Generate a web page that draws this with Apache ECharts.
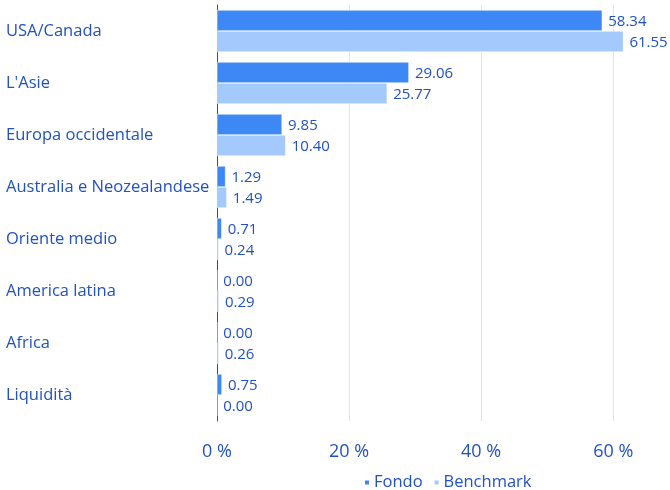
<!DOCTYPE html>
<html><head><meta charset="utf-8">
<script src="https://cdn.jsdelivr.net/npm/echarts@6/dist/echarts.min.js"></script>
<style>html,body{margin:0;padding:0;background:#fff}#c{width:670px;height:490px}</style>
</head><body><div id="c"></div>
<script>
const categories = ["USA/Canada","L'Asie","Europa occidentale","Australia e Neozealandese","Oriente medio","America latina","Africa","Liquidità"];
const fondo = [58.34, 29.06, 9.85, 1.29, 0.71, 0.00, 0.00, 0.75];
const benchmark = [61.55, 25.77, 10.40, 1.49, 0.24, 0.29, 0.26, 0.00];
const xTicks = [0, 20, 40, 60];

const txt = '#2151c2';
const font = 'Open Sans';
const chart = echarts.init(document.getElementById('c'));
chart.setOption({
  animation: false,
  textStyle: {fontFamily: font},
  grid: {left: 217, right: 0, top: 5, bottom: 69, containLabel: false},
  legend: {
    data: ['Fondo','Benchmark'], left: 358, top: 469, icon: 'rect', itemWidth: 6, itemHeight: 6, itemGap: 10,
    textStyle: {color: txt, fontSize: 16.5, fontFamily: font, padding: [0,0,0,-1]}
  },
  xAxis: {
    type: 'value', min: 0, max: 68.6, interval: 20,
    axisLine: {show: false}, axisTick: {show: false},
    splitLine: {lineStyle: {color: '#d6e6fb', width: 1}},
    axisLabel: {color: txt, fontSize: 18, margin: 22, showMaxLabel: false,
      formatter: v => xTicks.includes(v) ? v + ' %' : ''}
  },
  yAxis: {
    type: 'category', data: categories, inverse: true,
    axisLine: {show: true, lineStyle: {color: '#1f4fb5', width: 1}},
    axisTick: {show: false},
    axisLabel: {color: txt, fontSize: 16.5, align: 'left', margin: 211, padding: [3,0,0,0]}
  },
  series: [
    {name: 'Fondo', type: 'bar', data: fondo, barWidth: 21, barGap: '0%',
      itemStyle: {color: '#3d88f5', borderColor: '#fff', borderWidth: 0.5},
      label: {show: true, position: 'right', distance: 6, offset: [0, 1], color: txt, fontSize: 15, fontFamily: font, formatter: p => p.value.toFixed(2)}},
    {name: 'Benchmark', type: 'bar', data: benchmark, barWidth: 21,
      itemStyle: {color: '#a4c9fc', borderColor: '#fff', borderWidth: 0.5},
      label: {show: true, position: 'right', distance: 6, offset: [0, 1], color: txt, fontSize: 15, fontFamily: font, formatter: p => p.value.toFixed(2)}}
  ]
});
</script></body></html>
